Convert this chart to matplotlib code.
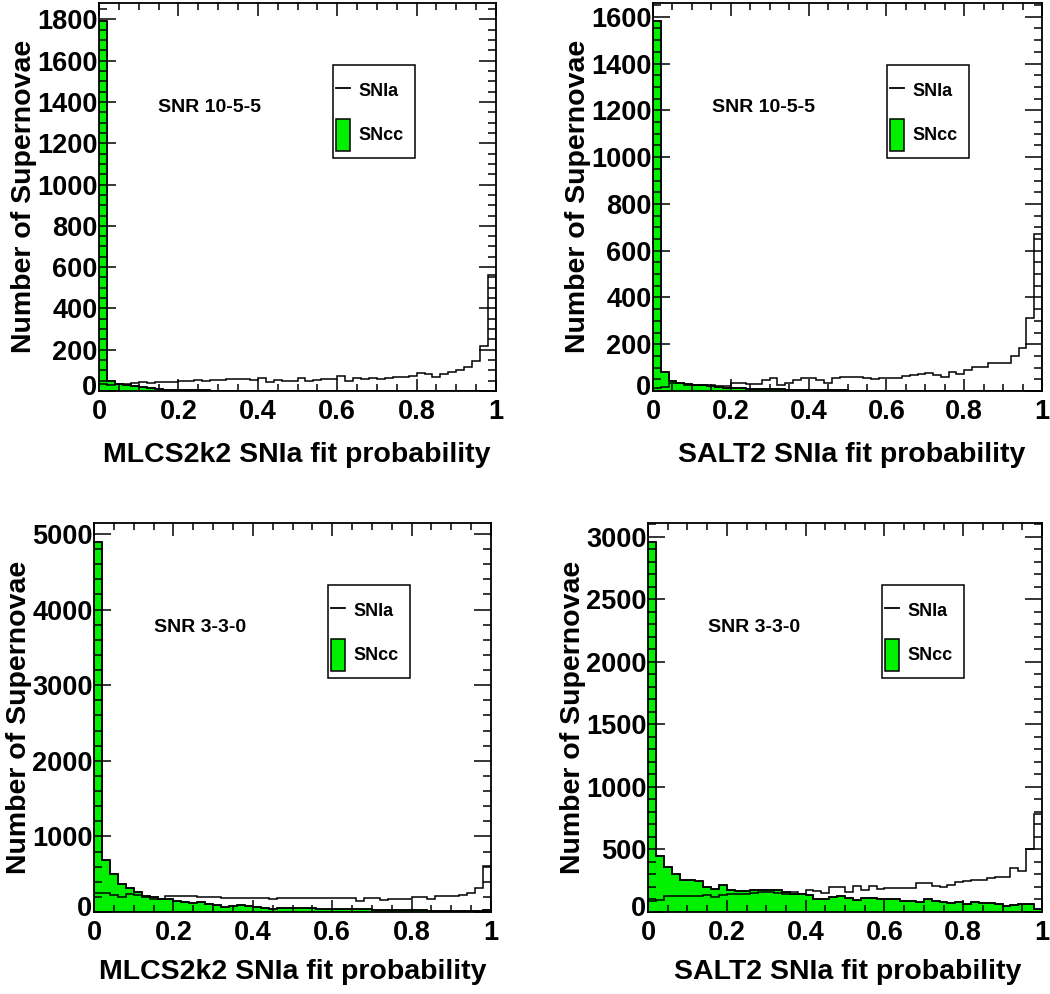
import numpy as np
import matplotlib
matplotlib.use("Agg")
import matplotlib.pyplot as plt
from matplotlib.patches import Rectangle
from matplotlib.lines import Line2D
from matplotlib.ticker import MultipleLocator

plt.rcParams['font.family'] = ['Liberation Sans', 'DejaVu Sans']
plt.rcParams['font.weight'] = 'bold'

W, H = 1050, 994
GREEN = '#00f000'

# 50 bins of fit probability, 0..1
edges = np.linspace(0, 1, 51)

# MLCS2k2, SNR 10-5-5
mlcs_hi_ia = [35, 30, 33, 36, 38, 42, 40, 43, 45, 42,
              50, 48, 52, 50, 51, 52, 60, 60, 58, 52,
              62, 45, 52, 50, 49, 64, 47, 52, 60, 58,
              72, 49, 62, 57, 63, 60, 65, 68, 70, 74,
              88, 84, 68, 82, 90, 100, 118, 145, 220, 561]
mlcs_hi_cc = [1790, 48, 36, 28, 22, 17, 13, 10, 7, 6,
              6, 4, 3, 3, 2, 2, 2, 1, 1, 1,
              2, 1, 1, 1, 1, 0, 1, 0, 1, 0,
              0, 1, 0, 0, 0, 0, 1, 0, 0, 0,
              0, 0, 0, 0, 0, 0, 0, 0, 0, 0]

# SALT2, SNR 10-5-5
salt_hi_ia = [14, 16, 33, 33, 26, 26, 26, 26, 23, 23,
              36, 33, 30, 30, 47, 57, 26, 33, 47, 54,
              57, 47, 33, 57, 61, 61, 61, 54, 51, 54,
              57, 57, 64, 68, 72, 75, 68, 58, 82, 72,
              89, 101, 104, 121, 121, 118, 149, 185, 314, 673]
salt_hi_cc = [1580, 82, 42, 34, 32, 27, 25, 20, 18, 14,
              12, 12, 10, 10, 8, 10, 9, 6, 5, 6,
              3, 4, 3, 6, 5, 2, 1, 2, 1, 1,
              1, 1, 0, 0, 1, 0, 0, 1, 0, 0,
              0, 0, 0, 0, 0, 0, 0, 0, 0, 0]

# MLCS2k2, SNR 3-3-0
mlcs_lo_ia = [245, 245, 220, 200, 243, 228, 200, 178, 176, 207,
              218, 207, 207, 205, 198, 196, 188, 190, 186, 185,
              188, 182, 172, 180, 185, 184, 186, 183, 188, 190,
              182, 188, 186, 141, 185, 186, 163, 172, 170, 175,
              198, 196, 176, 207, 210, 206, 220, 256, 318, 609]
mlcs_lo_cc = [4900, 692, 496, 375, 318, 270, 216, 203, 172, 168,
              150, 132, 118, 128, 106, 95, 66, 75, 88, 75,
              66, 57, 44, 53, 57, 52, 48, 50, 45, 46,
              44, 40, 42, 38, 40, 30, 28, 25, 26, 22,
              24, 20, 18, 17, 15, 14, 12, 10, 8, 20]

# SALT2, SNR 3-3-0
salt_lo_ia = [88, 93, 128, 131, 125, 128, 126, 136, 120, 133,
              141, 147, 145, 152, 157, 163, 150, 141, 160, 141,
              173, 168, 155, 200, 200, 160, 206, 179, 206, 187,
              195, 195, 195, 195, 235, 235, 208, 200, 219, 240,
              246, 254, 259, 272, 280, 280, 355, 328, 502, 785]
salt_lo_cc = [2960, 451, 360, 301, 254, 254, 248, 200, 184, 219,
              173, 168, 166, 173, 179, 179, 173, 160, 147, 141,
              133, 104, 104, 120, 125, 112, 93, 115, 115, 107,
              107, 101, 88, 88, 80, 104, 88, 80, 75, 80,
              67, 80, 75, 72, 67, 45, 53, 61, 61, 25]

xlabels = ["MLCS2k2 SNIa fit probability", "SALT2 SNIa fit probability",
           "MLCS2k2 SNIa fit probability", "SALT2 SNIa fit probability"]
snr_labels = ["SNR 10-5-5", "SNR 10-5-5", "SNR 3-3-0", "SNR 3-3-0"]


def fx(x):
    return x / W


def fy(y):
    return 1 - y / H


def ylabel_fmt(v, pos):
    # the y "0" is drawn separately, lifted a bit as ROOT does
    return '' if v == 0 else '%d' % v


# per panel: axes box in pixels (l, t, r, b), y tick steps, label / text anchors in pixels
panels = [
    dict(box=(99, 3, 496, 391), ia=mlcs_hi_ia, cc=mlcs_hi_cc, major=200, minor=50,
         ylab=(24, 196), xlab=(297, 455), snr=(209, 108), leg=(333, 65)),
    dict(box=(653, 3, 1042, 391), ia=salt_hi_ia, cc=salt_hi_cc, major=200, minor=50,
         ylab=(578, 196), xlab=(852, 455), snr=(764, 108), leg=(887, 65)),
    dict(box=(94, 523, 491, 912), ia=mlcs_lo_ia, cc=mlcs_lo_cc, major=1000, minor=200,
         ylab=(19, 717), xlab=(293, 972), snr=(200, 628), leg=(328, 585)),
    dict(box=(648, 523, 1042, 912), ia=salt_lo_ia, cc=salt_lo_cc, major=500, minor=100,
         ylab=(573, 717), xlab=(848, 972), snr=(754, 628), leg=(882, 585)),
]

fig = plt.figure(figsize=(W / 100, H / 100), dpi=100)

for i, p in enumerate(panels):
    l, t, r, b = p['box']
    ax = fig.add_axes([fx(l), fy(b), fx(r - l), (b - t) / H])
    # SNcc filled first, SNIa outline on top
    ax.stairs(p['cc'], edges, fill=True, facecolor=GREEN, edgecolor='black', linewidth=1.1)
    ax.stairs(p['cc'], edges, color='black', linewidth=1.1)
    ax.stairs(p['ia'], edges, color='black', linewidth=1.1)
    ymax = 1.05 * max(max(p['ia']), max(p['cc']))
    ax.set_xlim(0, 1)
    ax.set_ylim(0, ymax)
    ax.xaxis.set_major_locator(MultipleLocator(0.2))
    ax.xaxis.set_minor_locator(MultipleLocator(0.05))
    ax.yaxis.set_major_locator(MultipleLocator(p['major']))
    ax.yaxis.set_minor_locator(MultipleLocator(p['minor']))
    ax.xaxis.set_major_formatter(plt.FuncFormatter(lambda v, pos: ('%g' % round(v, 2))))
    ax.yaxis.set_major_formatter(plt.FuncFormatter(ylabel_fmt))
    ax.tick_params(which='both', direction='in', top=True, right=True, width=1.1)
    ax.tick_params(axis='x', which='major', length=9, labelsize=19.5, pad=6)
    ax.tick_params(axis='x', which='minor', length=5)
    ax.tick_params(axis='y', which='major', length=12, labelsize=19.5, pad=1)
    ax.tick_params(axis='y', which='minor', length=6)
    for s in ax.spines.values():
        s.set_linewidth(1.3)
    ax.annotate('0', xy=(0, 0), xycoords='axes fraction', xytext=(-1.5, 2.5),
                textcoords='offset points', ha='right', va='center',
                fontsize=19.5, fontweight='bold', annotation_clip=False)

    fig.text(fx(p['ylab'][0]), fy(p['ylab'][1]), "Number of Supernovae", rotation=90,
             ha='center', va='center', fontsize=20.5, fontweight='bold')
    fig.text(fx(p['xlab'][0]), fy(p['xlab'][1]), xlabels[i],
             ha='center', va='center', fontsize=20.5, fontweight='bold')
    fig.text(fx(p['snr'][0]), fy(p['snr'][1]), snr_labels[i],
             ha='center', va='center', fontsize=14, fontweight='bold')

    # legend box
    lx, ly = p['leg']
    fig.add_artist(Rectangle((fx(lx), fy(ly + 93)), 82 / W, 93 / H, transform=fig.transFigure,
                             facecolor='white', edgecolor='black', linewidth=1.1))
    fig.add_artist(Line2D([fx(lx + 3), fx(lx + 17)], [fy(ly + 23), fy(ly + 23)],
                          transform=fig.transFigure, color='black', linewidth=1.3))
    fig.text(fx(lx + 25), fy(ly + 26), "SNIa", ha='left', va='center', fontsize=13, fontweight='bold')
    fig.add_artist(Rectangle((fx(lx + 3), fy(ly + 86)), 14 / W, 32 / H, transform=fig.transFigure,
                             facecolor=GREEN, edgecolor='black', linewidth=1.1))
    fig.text(fx(lx + 25), fy(ly + 71), "SNcc", ha='left', va='center', fontsize=13, fontweight='bold')

fig.savefig("out.png", dpi=100)
